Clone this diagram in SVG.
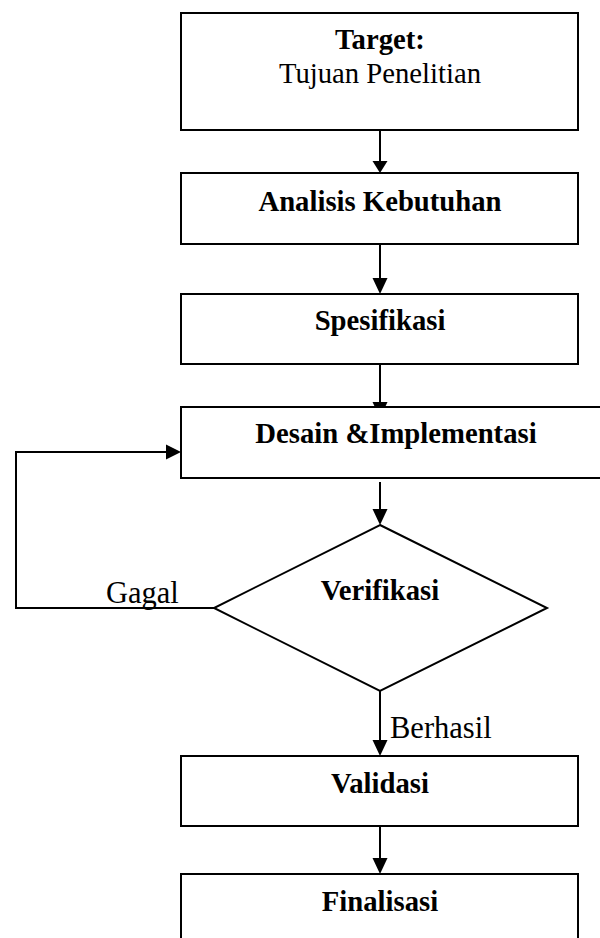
<svg xmlns="http://www.w3.org/2000/svg" width="600" height="938" viewBox="0 0 600 938">
<style>
.box{fill:#fff;stroke:#000;stroke-width:2}
.ln{fill:none;stroke:#000;stroke-width:2}
.hd{fill:#000;stroke:none}
.t{font-family:"Liberation Serif","Times New Roman",serif;font-size:28.7px;fill:#000;text-anchor:middle}
.b{font-weight:bold}
.lbl{font-family:"Liberation Serif","Times New Roman",serif;font-size:30.5px;fill:#000}
</style>
<rect width="600" height="938" fill="#fff"/>
<g id="connectors">
<line class="ln" x1="380" y1="130" x2="380" y2="162"/>
<polygon class="hd" points="372.5,161 387.5,161 380,173"/>
<line class="ln" x1="380" y1="244" x2="380" y2="280"/>
<polygon class="hd" points="372.5,278 387.5,278 380,294"/>
<line class="ln" x1="380" y1="364" x2="380" y2="404"/>
<polygon class="hd" points="372.5,402 387.5,402 380,418"/>
<line class="ln" x1="380" y1="482" x2="380" y2="511"/>
<polygon class="hd" points="372.5,509 387.5,509 380,525"/>
<line class="ln" x1="380" y1="691" x2="380" y2="742"/>
<polygon class="hd" points="372.5,740 387.5,740 380,756"/>
<line class="ln" x1="380" y1="826" x2="380" y2="860"/>
<polygon class="hd" points="372.5,858 387.5,858 380,874"/>
<polyline class="ln" points="214,608 16,608 16,452 168,452"/>
<polygon class="hd" points="166,444.5 166,459.5 181,452"/>
</g>
<g id="target">
<rect class="box" x="181" y="13" width="397" height="117"/>
<text class="t b" x="380" y="49">Target:</text>
<text class="t" x="380" y="82.5">Tujuan Penelitian</text>
</g>
<g id="analisis">
<rect class="box" x="181" y="173" width="397" height="71"/>
<text class="t b" x="380" y="210.5">Analisis Kebutuhan</text>
</g>
<g id="spesifikasi">
<rect class="box" x="181" y="294" width="397" height="70"/>
<text class="t b" x="380" y="330">Spesifikasi</text>
</g>
<g id="desain">
<rect class="box" x="181" y="407" width="440" height="71"/>
<text class="t b" x="396" y="443">Desain &amp;Implementasi</text>
</g>
<g id="verifikasi">
<polygon class="ln" points="380,525 547,608 380,691 214,608" fill="#fff"/>
<text class="t b" x="380" y="600">Verifikasi</text>
</g>
<g id="labels">
<text class="lbl" x="106" y="603">Gagal</text>
<text class="lbl" x="390" y="738">Berhasil</text>
</g>
<g id="validasi">
<rect class="box" x="181" y="756" width="397" height="70"/>
<text class="t b" x="380" y="793">Validasi</text>
</g>
<g id="finalisasi">
<rect class="box" x="181" y="874" width="397" height="80"/>
<text class="t b" x="380" y="911">Finalisasi</text>
</g>
</svg>
